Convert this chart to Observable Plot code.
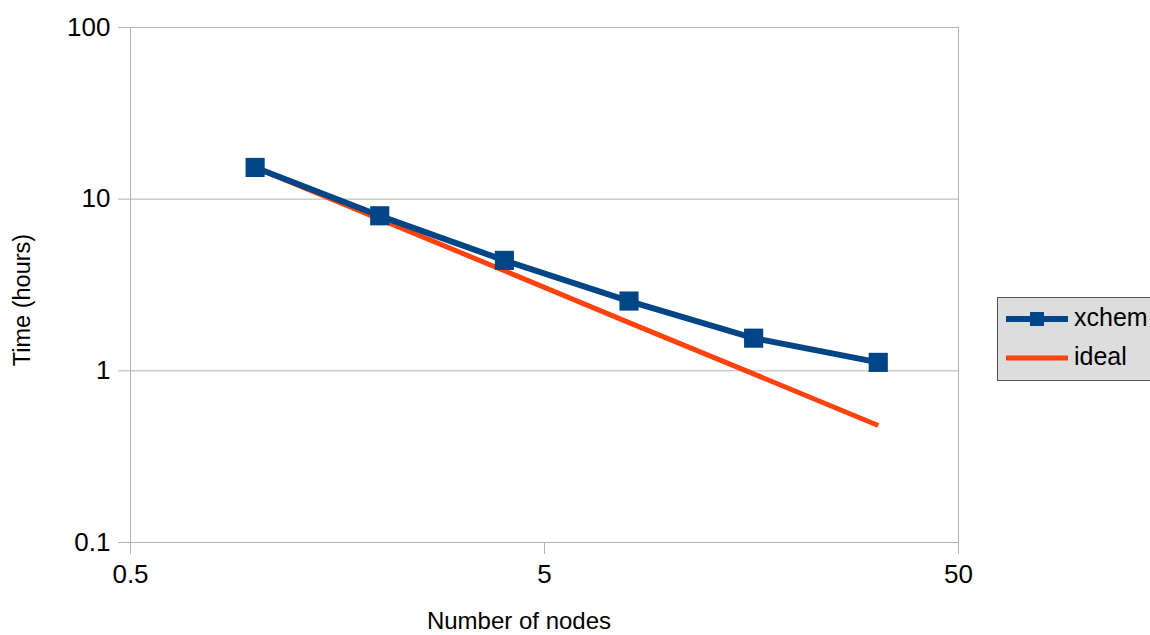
<!DOCTYPE html>
<html>
<head>
<meta charset="utf-8">
<script src="https://cdn.jsdelivr.net/npm/d3@7"></script>
<script src="https://cdn.jsdelivr.net/npm/@observablehq/plot@0.6"></script>
<style>
  html, body { margin: 0; padding: 0; background: #fff; }
  #wrap { position: relative; width: 1150px; height: 635px; overflow: hidden; font-family: "Liberation Sans", Arial, sans-serif; }
  #legend { position: absolute; left: 997px; top: 297px; width: 170px; height: 84px; background: #dddddd; border: 1px solid #555; box-sizing: border-box; }
  .li { position: absolute; left: 8px; height: 30px; }
  .li span { position: absolute; left: 68px; top: -2px; font-size: 25px; color: #000; line-height: 30px; white-space: nowrap; }
</style>
</head>
<body>
<div id="wrap"></div>
<script>
const nodes = [1, 2, 4, 8, 16, 32];
const xchem = [15.3, 8.0, 4.4, 2.55, 1.55, 1.12];
const ideal = [15.3, 7.65, 3.83, 1.91, 0.96, 0.48];
const xTicks = [0.5, 5, 50];
const yTicks = [0.1, 1, 10, 100];
const seriesNames = ["xchem", "ideal"];
const colors = ["#004586", "#ff420e"];

const xchemData = nodes.map((n, i) => ({n, t: xchem[i]}));
const idealData = nodes.map((n, i) => ({n, t: ideal[i]}));

const fmt = d => String(d);
const chart = Plot.plot({
  width: 1150,
  height: 635,
  marginLeft: 130,
  marginRight: 192,
  marginTop: 27,
  marginBottom: 93,
  style: {fontFamily: "Liberation Sans, Arial, sans-serif", background: "#fff"},
  x: {type: "log", domain: [0.5, 50], range: [130, 958]},
  y: {type: "log", domain: [0.1, 100]},
  marks: [
    Plot.gridY(yTicks, {stroke: "#b3b3b3", strokeOpacity: 1, strokeWidth: 1}),
    Plot.frame({stroke: "#b3b3b3", strokeWidth: 1}),
    Plot.axisX(xTicks, {tickSize: 12, tickPadding: 10, tickFormat: fmt, stroke: "#b3b3b3", fontSize: 26, fill: "#000", label: null}),
    Plot.axisY(yTicks, {tickSize: 12, tickPadding: 8, tickFormat: fmt, stroke: "#b3b3b3", fontSize: 26, fill: "#000", label: null}),
    Plot.line(idealData, {x: "n", y: "t", stroke: colors[1], strokeWidth: 5, strokeLinecap: "butt"}),
    Plot.line(xchemData, {x: "n", y: "t", stroke: colors[0], strokeWidth: 6, strokeLinejoin: "round"}),
    Plot.dot(xchemData, {x: "n", y: "t", symbol: "square", r: 10.8, fill: colors[0], stroke: "none"})
  ]
});

const wrap = document.getElementById("wrap");
wrap.appendChild(chart);

const svg = d3.select(chart);
svg.append("text")
  .attr("x", 519).attr("y", 629)
  .attr("text-anchor", "middle")
  .attr("font-size", 24)
  .attr("fill", "#000")
  .text("Number of nodes");
svg.append("text")
  .attr("transform", "translate(30,300) rotate(-90)")
  .attr("text-anchor", "middle")
  .attr("font-size", 23.5)
  .attr("fill", "#000")
  .text("Time (hours)");

// legend
const legend = document.createElement("div");
legend.id = "legend";
seriesNames.forEach((name, i) => {
  const item = document.createElement("div");
  item.className = "li";
  item.style.top = (i === 0 ? 6 : 45) + "px";
  item.innerHTML = `<svg width="62" height="30" style="position:absolute;left:0;top:0">
    <line x1="0" x2="62" y1="15" y2="15" stroke="${colors[i]}" stroke-width="${i === 0 ? 6 : 5}"/>
    ${i === 0 ? `<rect x="24" y="8" width="14" height="14" fill="${colors[i]}"/>` : ""}
  </svg><span>${name}</span>`;
  legend.appendChild(item);
});
wrap.appendChild(legend);
</script>
</body>
</html>
